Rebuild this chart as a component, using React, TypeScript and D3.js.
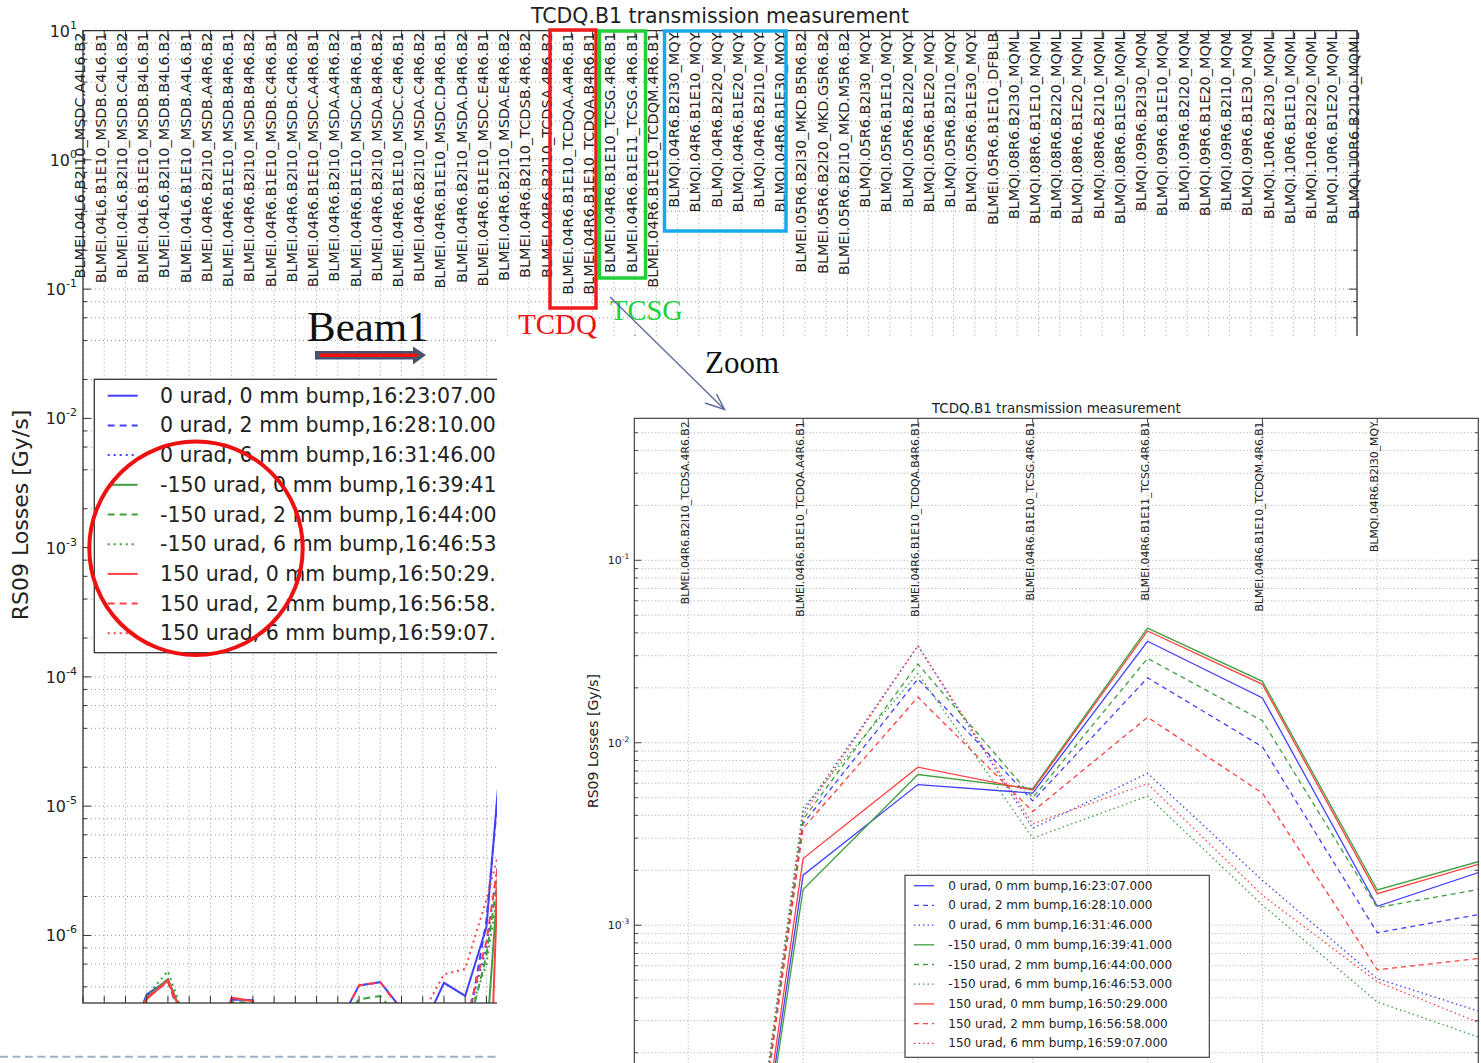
import React, { useEffect, useRef } from 'react';
import * as d3 from 'd3';

// beam loss monitors along the x axis (one category each)
const monitors: string[] = [
  'BLMEI.04L6.B2I10_MSDC.A4L6.B2', 'BLMEI.04L6.B1E10_MSDB.C4L6.B1', 'BLMEI.04L6.B2I10_MSDB.C4L6.B2',
  'BLMEI.04L6.B1E10_MSDB.B4L6.B1', 'BLMEI.04L6.B2I10_MSDB.B4L6.B2', 'BLMEI.04L6.B1E10_MSDB.A4L6.B1',
  'BLMEI.04R6.B2I10_MSDB.A4R6.B2', 'BLMEI.04R6.B1E10_MSDB.B4R6.B1', 'BLMEI.04R6.B2I10_MSDB.B4R6.B2',
  'BLMEI.04R6.B1E10_MSDB.C4R6.B1', 'BLMEI.04R6.B2I10_MSDB.C4R6.B2', 'BLMEI.04R6.B1E10_MSDC.A4R6.B1',
  'BLMEI.04R6.B2I10_MSDA.A4R6.B2', 'BLMEI.04R6.B1E10_MSDC.B4R6.B1', 'BLMEI.04R6.B2I10_MSDA.B4R6.B2',
  'BLMEI.04R6.B1E10_MSDC.C4R6.B1', 'BLMEI.04R6.B2I10_MSDA.C4R6.B2', 'BLMEI.04R6.B1E10_MSDC.D4R6.B1',
  'BLMEI.04R6.B2I10_MSDA.D4R6.B2', 'BLMEI.04R6.B1E10_MSDC.E4R6.B1', 'BLMEI.04R6.B2I10_MSDA.E4R6.B2',
  'BLMEI.04R6.B2I10_TCDSB.4R6.B2', 'BLMEI.04R6.B2I10_TCDSA.4R6.B2', 'BLMEI.04R6.B1E10_TCDQA.A4R6.B1',
  'BLMEI.04R6.B1E10_TCDQA.B4R6.B1', 'BLMEI.04R6.B1E10_TCSG.4R6.B1', 'BLMEI.04R6.B1E11_TCSG.4R6.B1',
  'BLMEI.04R6.B1E10_TCDQM.4R6.B1', 'BLMQI.04R6.B2I30_MQY', 'BLMQI.04R6.B1E10_MQY',
  'BLMQI.04R6.B2I20_MQY', 'BLMQI.04R6.B1E20_MQY', 'BLMQI.04R6.B2I10_MQY', 'BLMQI.04R6.B1E30_MQY',
  'BLMEI.05R6.B2I30_MKD.B5R6.B2', 'BLMEI.05R6.B2I20_MKD.G5R6.B2', 'BLMEI.05R6.B2I10_MKD.M5R6.B2',
  'BLMQI.05R6.B2I30_MQY', 'BLMQI.05R6.B1E10_MQY', 'BLMQI.05R6.B2I20_MQY', 'BLMQI.05R6.B1E20_MQY',
  'BLMQI.05R6.B2I10_MQY', 'BLMQI.05R6.B1E30_MQY', 'BLMEI.05R6.B1E10_DFBLB',
  'BLMQI.08R6.B2I30_MQML', 'BLMQI.08R6.B1E10_MQML', 'BLMQI.08R6.B2I20_MQML', 'BLMQI.08R6.B1E20_MQML',
  'BLMQI.08R6.B2I10_MQML', 'BLMQI.08R6.B1E30_MQML', 'BLMQI.09R6.B2I30_MQM', 'BLMQI.09R6.B1E10_MQM',
  'BLMQI.09R6.B2I20_MQM', 'BLMQI.09R6.B1E20_MQM', 'BLMQI.09R6.B2I10_MQM', 'BLMQI.09R6.B1E30_MQM',
  'BLMQI.10R6.B2I30_MQML', 'BLMQI.10R6.B1E10_MQML', 'BLMQI.10R6.B2I20_MQML', 'BLMQI.10R6.B1E20_MQML',
  'BLMQI.10R6.B2I10_MQML',
];

const legendLabels: string[] = [
  '0 urad, 0 mm bump,16:23:07.000',
  '0 urad, 2 mm bump,16:28:10.000',
  '0 urad, 6 mm bump,16:31:46.000',
  '-150 urad, 0 mm bump,16:39:41.000',
  '-150 urad, 2 mm bump,16:44:00.000',
  '-150 urad, 6 mm bump,16:46:53.000',
  '150 urad, 0 mm bump,16:50:29.000',
  '150 urad, 2 mm bump,16:56:58.000',
  '150 urad, 6 mm bump,16:59:07.000',
];

// losses [Gy/s] for the first 30 monitors; the rest of the trace is hidden under the zoom panel.
// null = not readable (covered)
const zero0 = [1e-7, 1e-7, 1.3e-7, 3.5e-7, 4.5e-7, 1.8e-7, 1e-7, 3.2e-7, 3.15e-7, 1e-7, 1e-7, 1e-7, 2e-7, 4.1e-7, 4.35e-7,
  2.7e-7, 1.9e-7, 4.3e-7, 3.4e-7, 1.16e-6, 1.1e-4, null, 1e-7, 1.88e-3, 5.9e-3, 5.3e-3, 0.036, 0.0176, 1.27e-3, 2.06e-3];
const zero2 = [1e-7, 1e-7, 1.2e-7, 3.4e-7, 4.4e-7, 1.5e-7, 1e-7, 1e-7, 1e-7, 1e-7, 1e-7, 1e-7, 1e-7, 1e-7, 1e-7,
  1e-7, 1e-7, 1e-7, 1.5e-7, 1.3e-6, 8e-5, null, 1e-7, 3.6e-3, 0.0224, 4.8e-3, 0.0227, 9.5e-3, 9.1e-4, 1.18e-3];
const zero6 = [1e-7, 1e-7, 1e-7, 1e-7, 1e-7, 1e-7, 1e-7, 1e-7, 1e-7, 1e-7, 1e-7, 1e-7, 1e-7, 1e-7, 1e-7,
  1e-7, 1e-7, 1e-7, 2e-7, 8e-7, 1.3e-5, null, 1e-7, 4.2e-3, 0.034, 3.4e-3, 6.8e-3, 1.76e-3, 5.1e-4, 3.2e-4];
const minus0 = [1e-7, 1e-7, 1.3e-7, 3.3e-7, 4.6e-7, 1.8e-7, 1e-7, 1e-7, 1e-7, 1e-7, 1e-7, 1e-7, 1e-7, 1e-7, 1e-7,
  1e-7, 1e-7, 1e-7, 1e-7, 1.5e-7, 3e-5, null, 1e-7, 1.57e-3, 6.7e-3, 5.6e-3, 0.0425, 0.0217, 1.56e-3, 2.34e-3];
const minus2 = [1e-7, 1e-7, 1.3e-7, 3.3e-7, 4.5e-7, 1.7e-7, 1e-7, 3.05e-7, 3.02e-7, 1e-7, 1e-7, 1e-7, 2e-7, 3.2e-7, 3.4e-7,
  2.2e-7, 1e-7, 1e-7, 1.5e-7, 7e-7, 9e-6, null, 1e-7, 3.8e-3, 0.027, 5.0e-3, 0.029, 0.0132, 1.25e-3, 1.62e-3];
const minus6 = [1e-7, 1e-7, 1.4e-7, 3.4e-7, 5.3e-7, 1.8e-7, 1e-7, 1e-7, 1e-7, 1e-7, 1e-7, 1e-7, 1e-7, 1e-7, 1e-7,
  1e-7, 1e-7, 1e-7, 2e-7, 6e-7, 6.6e-6, null, 1e-7, 4.4e-3, 0.024, 3.0e-3, 5.1e-3, 1.29e-3, 3.8e-4, 2.3e-4];
const plus0 = [1e-7, 1e-7, 1.2e-7, 3.2e-7, 4.5e-7, 1.8e-7, 1e-7, 3.3e-7, 3.1e-7, 1e-7, 1e-7, 1e-7, 1e-7, 1e-7, 1e-7,
  1e-7, 1e-7, 1e-7, 1e-7, 1e-8, 4e-4, null, 1e-7, 2.32e-3, 7.35e-3, 5.5e-3, 0.041, 0.0209, 1.49e-3, 2.27e-3];
const plus2 = [1e-7, 1e-7, 1.2e-7, 3.3e-7, 4.4e-7, 1.6e-7, 1e-7, 1e-7, 1e-7, 1e-7, 1e-7, 1e-7, 2e-7, 4.1e-7, 4.35e-7,
  2.6e-7, 1e-7, 1e-7, 2e-7, 9e-7, 1.1e-5, null, 1e-7, 3.4e-3, 0.0178, 4.2e-3, 0.0138, 5.3e-3, 5.7e-4, 6.7e-4];
const plus6 = [1e-7, 1e-7, 1e-7, 1e-7, 1e-7, 1e-7, 1e-7, 1e-7, 1e-7, 1e-7, 1e-7, 1e-7, 1e-7, 1e-7, 1e-7,
  1e-7, 2.5e-7, 5e-7, 5.5e-7, 1.9e-6, 8e-6, null, 1e-7, 4.0e-3, 0.034, 3.6e-3, 5.97e-3, 1.46e-3, 4.9e-4, 2.74e-4];

const seriesValues = [zero0, zero2, zero6, minus0, minus2, minus6, plus0, plus2, plus6];
const seriesColors = ['#4141ff', '#4141ff', '#4141ff', '#3f9f3f', '#3f9f3f', '#3f9f3f', '#ff4040', '#ff4040', '#ff4040'];
const seriesStyles = ['solid', 'dashed', 'dotted', 'solid', 'dashed', 'dotted', 'solid', 'dashed', 'dotted'];

// y tick labels (10^exp)
const bigYTicks = [1e1, 1e0, 1e-1, 1e-2, 1e-3, 1e-4, 1e-5, 1e-6];
const bigYExps = ['1', '0', '-1', '-2', '-3', '-4', '-5', '-6'];
const bigMinorSubs = [2, 4, 6, 8];
const zoomYTicks = [1e-1, 1e-2, 1e-3];
const zoomYExps = ['-1', '-2', '-3'];
const zoomMinorSubs = [2, 3, 4, 5, 6, 7, 8, 9];
const zoomFirst = 22;
const zoomLast = 28;

const sans = 'DejaVu Sans, Verdana, sans-serif';
const serif = 'Liberation Serif, Times New Roman, serif';

const App: React.FC = () => {
  const svgRef = useRef<SVGSVGElement | null>(null);

  useEffect(() => {
    const svg = d3.select(svgRef.current);
    svg.selectAll('*').remove();
    const defs = svg.append('defs');

    const dashOf = (style: string, big: boolean) =>
      style === 'dashed' ? (big ? '7,5' : '5,4') : style === 'dotted' ? (big ? '2,4' : '1.5,3') : null;

    // ---------------- big overview chart ----------------
    const B = { left: 83, right: 1357, top: 30.6, bottom: 1003 };
    const bx = d3.scaleLinear().domain([0, monitors.length - 1]).range([B.left, B.right]);
    const by = d3.scaleLog().domain([3e-7, 10]).range([B.bottom, B.top]);

    defs.append('clipPath').attr('id', 'bigClip')
      .append('rect').attr('x', B.left).attr('y', B.top)
      .attr('width', B.right - B.left).attr('height', B.bottom - B.top);

    const gb = svg.append('g');
    const bigGrid: { v: number; major: boolean }[] = [];
    for (let e = -7; e <= 1; e++) {
      [1, ...bigMinorSubs].forEach((m) => {
        const v = m * Math.pow(10, e);
        if (v >= 3e-7 && v <= 10) bigGrid.push({ v, major: m === 1 });
      });
    }
    gb.append('g').selectAll('line').data(bigGrid).join('line')
      .attr('x1', B.left).attr('x2', B.right)
      .attr('y1', (d) => by(d.v)).attr('y2', (d) => by(d.v))
      .attr('stroke', '#9a9a9a').attr('stroke-dasharray', '1,3');
    gb.append('g').selectAll('line').data(monitors.map((_, i) => i)).join('line')
      .attr('x1', (d) => bx(d)).attr('x2', (d) => bx(d))
      .attr('y1', B.top).attr('y2', B.bottom)
      .attr('stroke', '#9a9a9a').attr('stroke-dasharray', '1,3');

    const bigLine = d3.line<[number, number | null]>()
      .defined((d) => d[1] !== null)
      .x((d) => bx(d[0]))
      .y((d) => by(Math.max(d[1] as number, 1e-9)));
    const gbl = gb.append('g').attr('clip-path', 'url(#bigClip)');
    seriesValues.forEach((vals, s) => {
      gbl.append('path')
        .datum(vals.map((v, i) => [i, v] as [number, number | null]))
        .attr('d', bigLine)
        .attr('fill', 'none')
        .attr('stroke', seriesColors[s])
        .attr('stroke-width', 2)
        .attr('stroke-dasharray', dashOf(seriesStyles[s], true));
    });

    // frame + ticks
    gb.append('rect').attr('x', B.left).attr('y', B.top)
      .attr('width', B.right - B.left).attr('height', B.bottom - B.top)
      .attr('fill', 'none').attr('stroke', '#333').attr('stroke-width', 1.3);
    const bt = gb.append('g').attr('stroke', '#333').attr('stroke-width', 1);
    bigGrid.forEach((d) => {
      const len = d.major ? 8 : 4;
      bt.append('line').attr('x1', B.left).attr('x2', B.left + len).attr('y1', by(d.v)).attr('y2', by(d.v));
      bt.append('line').attr('x1', B.right).attr('x2', B.right - len).attr('y1', by(d.v)).attr('y2', by(d.v));
    });
    monitors.forEach((_, i) => {
      bt.append('line').attr('x1', bx(i)).attr('x2', bx(i)).attr('y1', B.bottom).attr('y2', B.bottom - 7);
      bt.append('line').attr('x1', bx(i)).attr('x2', bx(i)).attr('y1', B.top).attr('y2', B.top + 7);
    });

    bigYTicks.forEach((v, i) => {
      const t = gb.append('text').attr('x', B.left - 6).attr('y', by(v) + 6)
        .attr('text-anchor', 'end').attr('font-family', sans).attr('fill', '#222');
      t.append('tspan').attr('font-size', 16).text('10');
      t.append('tspan').attr('font-size', 11).attr('dy', -8).text(bigYExps[i]);
    });

    gb.append('g').selectAll('text').data(monitors).join('text')
      .attr('transform', (_, i) => `translate(${bx(i) + 1.5},32.5) rotate(-90)`)
      .attr('text-anchor', 'end')
      .attr('font-family', sans).attr('font-size', 14.5).attr('fill', '#222')
      .text((d) => d);

    gb.append('text').attr('x', (B.left + B.right) / 2).attr('y', 22.7)
      .attr('text-anchor', 'middle').attr('font-family', sans).attr('font-size', 20.5).attr('fill', '#222')
      .text('TCDQ.B1 transmission measurement');
    gb.append('text').attr('transform', 'translate(28,515) rotate(-90)')
      .attr('text-anchor', 'middle').attr('font-family', sans).attr('font-size', 22).attr('fill', '#222')
      .text('RS09 Losses [Gy/s]');

    // legend
    const bl = gb.append('g');
    bl.append('rect').attr('x', 94.3).attr('y', 379.3).attr('width', 520).attr('height', 273.4)
      .attr('fill', '#fff').attr('stroke', '#333').attr('stroke-width', 1.3);
    legendLabels.forEach((lab, s) => {
      const y = 395.7 + s * 29.7;
      bl.append('line').attr('x1', 107.7).attr('x2', 137.7).attr('y1', y).attr('y2', y)
        .attr('stroke', seriesColors[s]).attr('stroke-width', 2)
        .attr('stroke-dasharray', dashOf(seriesStyles[s], true));
      bl.append('text').attr('x', 160).attr('y', y).attr('dominant-baseline', 'central')
        .attr('font-family', sans).attr('font-size', 20.5).attr('fill', '#222').text(lab);
    });

    // the zoom panel sits on top of the lower right part of the overview
    svg.append('rect').attr('x', 497).attr('y', 336).attr('width', 984).attr('height', 727).attr('fill', '#fff');

    // ---------------- zoom chart ----------------
    const Z = { left: 634.3, right: 1478.3, top: 418.3, bottom: 1107.7 };
    const zx = d3.scaleLinear().domain([21.53, 28.88]).range([Z.left, Z.right]);
    const zy = d3.scaleLog().domain([1e-4, 0.6]).range([Z.bottom, Z.top]);
    const zIdx = d3.range(zoomFirst, zoomLast + 1);

    defs.append('clipPath').attr('id', 'zoomClip')
      .append('rect').attr('x', Z.left).attr('y', Z.top)
      .attr('width', Z.right - Z.left).attr('height', Z.bottom - Z.top);

    const gz = svg.append('g');
    const zGrid: { v: number; major: boolean }[] = [];
    for (let e = -4; e <= -1; e++) {
      [1, ...zoomMinorSubs].forEach((m) => {
        const v = m * Math.pow(10, e);
        if (v >= 1e-4 && v <= 0.6) zGrid.push({ v, major: m === 1 });
      });
    }
    gz.append('g').selectAll('line').data(zGrid).join('line')
      .attr('x1', Z.left).attr('x2', Z.right)
      .attr('y1', (d) => zy(d.v)).attr('y2', (d) => zy(d.v))
      .attr('stroke', '#a8a8a8').attr('stroke-dasharray', '1,2.5');
    gz.append('g').selectAll('line').data(zIdx).join('line')
      .attr('x1', (d) => zx(d)).attr('x2', (d) => zx(d))
      .attr('y1', Z.top).attr('y2', Z.bottom)
      .attr('stroke', '#a8a8a8').attr('stroke-dasharray', '1,2.5');

    const zLine = d3.line<[number, number | null]>()
      .defined((d) => d[1] !== null)
      .x((d) => zx(d[0]))
      .y((d) => zy(Math.max(d[1] as number, 1e-9)));
    const gzl = gz.append('g').attr('clip-path', 'url(#zoomClip)');
    seriesValues.forEach((vals, s) => {
      gzl.append('path')
        .datum(vals.map((v, i) => [i, v] as [number, number | null]).filter((d) => d[0] >= zoomFirst - 1))
        .attr('d', zLine)
        .attr('fill', 'none')
        .attr('stroke', seriesColors[s])
        .attr('stroke-width', 1.3)
        .attr('stroke-dasharray', dashOf(seriesStyles[s], false));
    });

    gz.append('rect').attr('x', Z.left).attr('y', Z.top)
      .attr('width', Z.right - Z.left).attr('height', Z.bottom - Z.top)
      .attr('fill', 'none').attr('stroke', '#333').attr('stroke-width', 1.1);
    const zt = gz.append('g').attr('stroke', '#333').attr('stroke-width', 0.9);
    zGrid.forEach((d) => {
      const len = d.major ? 7 : 3.5;
      zt.append('line').attr('x1', Z.left).attr('x2', Z.left + len).attr('y1', zy(d.v)).attr('y2', zy(d.v));
      zt.append('line').attr('x1', Z.right).attr('x2', Z.right - len).attr('y1', zy(d.v)).attr('y2', zy(d.v));
    });
    zIdx.forEach((i) => {
      zt.append('line').attr('x1', zx(i)).attr('x2', zx(i)).attr('y1', Z.top).attr('y2', Z.top + 5);
    });

    zoomYTicks.forEach((v, i) => {
      const t = gz.append('text').attr('x', Z.left - 5).attr('y', zy(v) + 4)
        .attr('text-anchor', 'end').attr('font-family', sans).attr('fill', '#222');
      t.append('tspan').attr('font-size', 11).text('10');
      t.append('tspan').attr('font-size', 7.5).attr('dy', -5).text(zoomYExps[i]);
    });

    gz.append('g').selectAll('text').data(zIdx).join('text')
      .attr('transform', (d) => `translate(${zx(d) + 1},421.5) rotate(-90)`)
      .attr('text-anchor', 'end')
      .attr('font-family', sans).attr('font-size', 10.8).attr('fill', '#222')
      .text((d) => monitors[d]);

    gz.append('text').attr('x', (Z.left + Z.right) / 2).attr('y', 413)
      .attr('text-anchor', 'middle').attr('font-family', sans).attr('font-size', 13.5).attr('fill', '#222')
      .text('TCDQ.B1 transmission measurement');
    gz.append('text').attr('transform', 'translate(598,741) rotate(-90)')
      .attr('text-anchor', 'middle').attr('font-family', sans).attr('font-size', 14).attr('fill', '#222')
      .text('RS09 Losses [Gy/s]');

    const zl = gz.append('g');
    zl.append('rect').attr('x', 905).attr('y', 875.3).attr('width', 304.3).attr('height', 182)
      .attr('fill', '#fff').attr('stroke', '#333').attr('stroke-width', 1.1);
    legendLabels.forEach((lab, s) => {
      const y = 885.7 + s * 19.7;
      zl.append('line').attr('x1', 914).attr('x2', 934).attr('y1', y).attr('y2', y)
        .attr('stroke', seriesColors[s]).attr('stroke-width', 1.3)
        .attr('stroke-dasharray', dashOf(seriesStyles[s], false));
      zl.append('text').attr('x', 948.3).attr('y', y).attr('dominant-baseline', 'central')
        .attr('font-family', sans).attr('font-size', 12).attr('fill', '#222').text(lab);
    });

    // ---------------- slide annotations ----------------
    const an = svg.append('g');
    an.append('rect').attr('x', 550).attr('y', 30).attr('width', 46).attr('height', 278)
      .attr('fill', 'none').attr('stroke', '#ee1c1c').attr('stroke-width', 3.5);
    an.append('rect').attr('x', 599.5).attr('y', 31).attr('width', 46).attr('height', 247)
      .attr('fill', 'none').attr('stroke', '#22d038').attr('stroke-width', 3.5);
    an.append('rect').attr('x', 664.5).attr('y', 31).attr('width', 121.5).attr('height', 200)
      .attr('fill', 'none').attr('stroke', '#18a8ec').attr('stroke-width', 3.5);
    an.append('text').attr('x', 518).attr('y', 334).attr('font-family', serif).attr('font-size', 29)
      .attr('fill', '#ee1111').text('TCDQ');
    an.append('text').attr('x', 610).attr('y', 320).attr('font-family', serif).attr('font-size', 28.5)
      .attr('fill', '#22d038').text('TCSG');
    an.append('text').attr('x', 705).attr('y', 373).attr('font-family', serif).attr('font-size', 31)
      .attr('fill', '#111').text('Zoom');
    an.append('text').attr('x', 307).attr('y', 341).attr('font-family', serif).attr('font-size', 43)
      .attr('fill', '#111').text('Beam1');

    // zoom pointer
    an.append('line').attr('x1', 610).attr('y1', 297).attr('x2', 724).attr('y2', 409)
      .attr('stroke', '#5b6a99').attr('stroke-width', 1.3);
    an.append('path').attr('d', 'M705,403 L724.5,409.5 L716.5,394')
      .attr('fill', 'none').attr('stroke', '#5b6a99').attr('stroke-width', 1.5);

    // beam direction arrow
    an.append('path').attr('d', 'M315,351 L413,351 L413,346.5 L426,355 L413,364.5 L413,359.5 L315,359.5 Z')
      .attr('fill', '#45536f');
    an.append('line').attr('x1', 319).attr('x2', 418).attr('y1', 355.2).attr('y2', 355.2)
      .attr('stroke', '#ff1010').attr('stroke-width', 3.5);

    an.append('circle').attr('cx', 196).attr('cy', 548.3).attr('r', 106.7)
      .attr('fill', 'none').attr('stroke', '#ee1111').attr('stroke-width', 4);

    an.append('line').attr('x1', 0).attr('x2', 496).attr('y1', 1056.7).attr('y2', 1056.7)
      .attr('stroke', '#9fb3c8').attr('stroke-width', 2).attr('stroke-dasharray', '8,4.5');
  }, []);

  return (
    <svg
      ref={svgRef}
      width={1481}
      height={1063}
      style={{ position: 'absolute', left: 0, top: 0, background: '#fff' }}
    />
  );
};

export default App;
